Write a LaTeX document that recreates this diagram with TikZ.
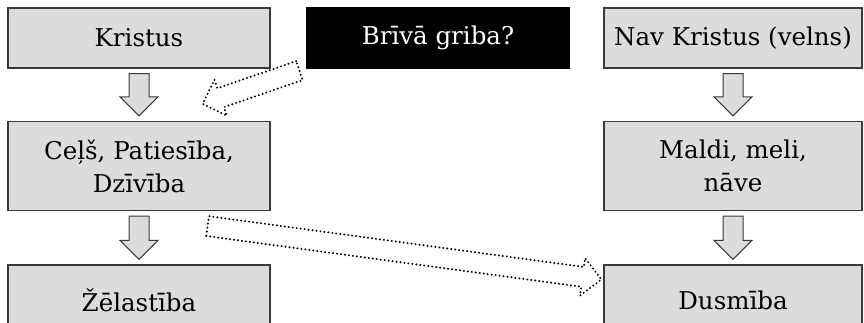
\documentclass[tikz,border=0pt]{standalone}
\usepackage{fontspec}
\setmainfont{DejaVu Serif}
\usetikzlibrary{calc}
\definecolor{boxgray}{HTML}{DCDCDC}
\definecolor{boxline}{HTML}{3A3A3A}
\tikzset{
  box/.style={draw=boxline, line width=1.2pt, fill=boxgray, minimum width=262pt,
    align=center, inner sep=0pt, font=\fontsize{24.5}{33}\selectfont},
  darkbox/.style={box, draw=black, fill=black, text=white},
  downarr/.style={draw=boxline, line width=1pt, fill=boxgray, line join=miter},
  dotarr/.style={draw=black, line width=2.2pt, line cap=round,
    dash pattern=on 0pt off 4pt, fill=white},
}
% block arrow from #2 to #3
\newcommand\blockarrow[3]{%
  \path[#1] let \p1=(#2), \p2=(#3), \n1={atan2(\y2-\y1,\x2-\x1)},
    \n2={veclen(\x2-\x1,\y2-\y1)} in
    [shift={(\p1)}, rotate=\n1] (0,-10) -- ({\n2-19},-10) -- ({\n2-19},-19)
    -- (\n2,0) -- ({\n2-19},19) -- ({\n2-19},10) -- (0,10) -- cycle;}
\begin{document}
\begin{tikzpicture}[x=1pt, y=1pt]
  \useasboundingbox (0,0) rectangle (864,-322);
  % left column
  \node[box, minimum height=60pt] (kristus) at (139,-38) {Kristus};
  \node[box, minimum height=89pt] (cels) at (139,-166) {Ceļš, Patiesība,\\Dzīvība};
  \node[box, minimum height=70pt] (zel) at (139,-300) {Žēlastība};
  % middle
  \node[darkbox, minimum height=60pt] (briva) at (438,-38) {Brīvā griba?};
  % right column
  \node[box, minimum width=258pt, minimum height=60pt] (nav) at (733,-38) {Nav Kristus (velns)};
  \node[box, minimum width=258pt, minimum height=89pt] (maldi) at (733,-166) {Maldi, meli,\\nāve};
  \node[box, minimum width=258pt, minimum height=70pt] (dusm) at (733,-300) {Dusmība};
  % arrows
  \blockarrow{downarr}{$(kristus.south)+(0,-5)$}{$(cels.north)+(0,5)$}
  \blockarrow{downarr}{$(cels.south)+(0,-5)$}{$(zel.north)+(0,5)$}
  \blockarrow{downarr}{$(nav.south)+(0,-5)$}{$(maldi.north)+(0,5)$}
  \blockarrow{downarr}{$(maldi.south)+(0,-5)$}{$(dusm.north)+(0,5)$}
  \blockarrow{dotarr}{$(briva.south west)+(-7,-2)$}{$(cels.north east)+(-68,17)$}
  \blockarrow{dotarr}{$(cels.south east)+(-63,-15)$}{$(dusm.north west)+(-2,-15)$}
\end{tikzpicture}
\end{document}
